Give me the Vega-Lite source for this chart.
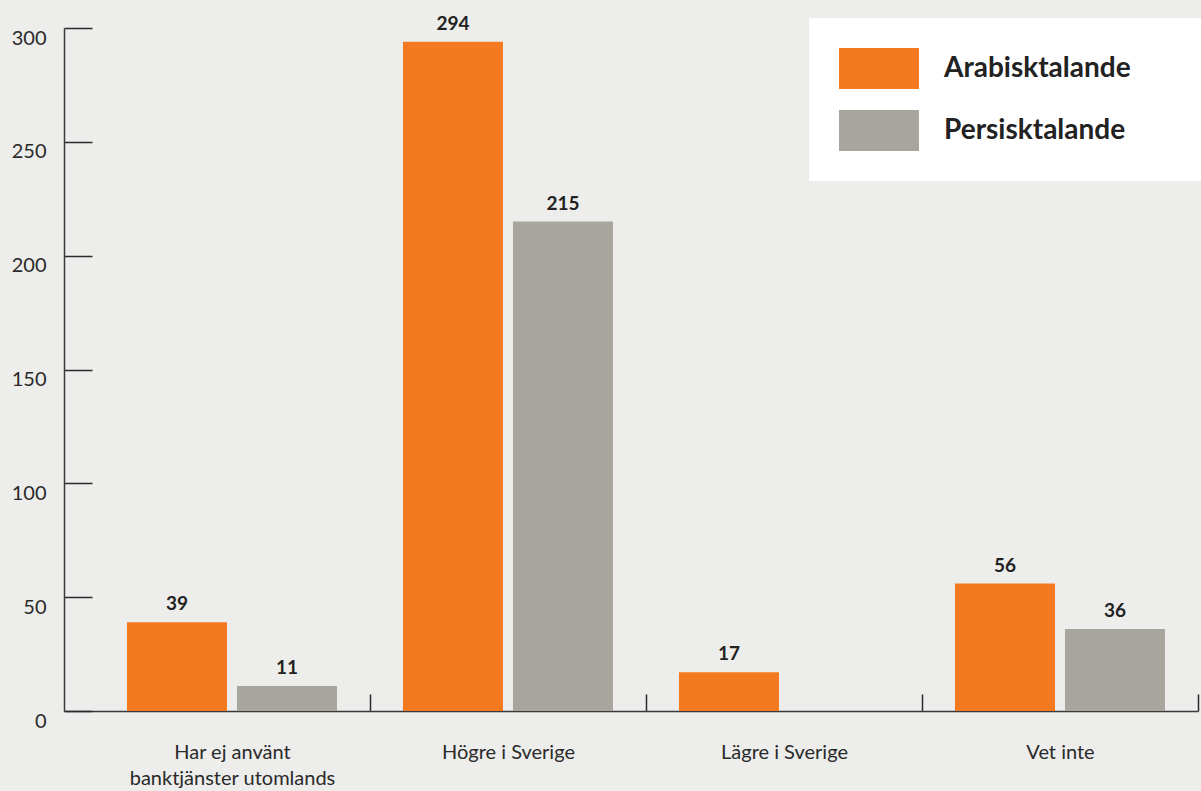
{
  "$schema": "https://vega.github.io/schema/vega-lite/v6.json",
  "autosize": {"type": "none"},
  "width": 1134,
  "height": 683,
  "padding": {"left": 64, "top": 28, "right": 3, "bottom": 80},
  "background": "#ededeb",
  "config": {
    "view": {"stroke": null},
    "font": "Lato",
    "axis": {"labelFont": "Lato", "labelColor": "#2a2a2a", "domainColor": "#3a3a3a", "tickColor": "#2a2a2a", "grid": false, "title": null}
  },
  "data": {
    "values": [
      {"kategori": "Har ej använt banktjänster utomlands", "grupp": "Arabisktalande", "antal": 39},
      {"kategori": "Har ej använt banktjänster utomlands", "grupp": "Persisktalande", "antal": 11},
      {"kategori": "Högre i Sverige", "grupp": "Arabisktalande", "antal": 294},
      {"kategori": "Högre i Sverige", "grupp": "Persisktalande", "antal": 215},
      {"kategori": "Lägre i Sverige", "grupp": "Arabisktalande", "antal": 17},
      {"kategori": "Lägre i Sverige", "grupp": "Persisktalande", "antal": 0},
      {"kategori": "Vet inte", "grupp": "Arabisktalande", "antal": 56},
      {"kategori": "Vet inte", "grupp": "Persisktalande", "antal": 36}
    ]
  },
  "encoding": {
    "x": {
      "field": "kategori",
      "type": "nominal",
      "sort": null,
      "scale": {"paddingInner": 0, "paddingOuter": 0.0543, "align": 1},
      "axis": {
        "labelAngle": 0,
        "labelFontSize": 20,
        "labelPadding": 48,
        "labelLineHeight": 26,
        "labelBaseline": "top",
        "labelLimit": 500,
        "tickBand": "extent",
        "tickSize": -17,
        "tickWidth": 1.5,
        "tickOpacity": {"condition": {"test": "datum.extra", "value": 0}, "value": 1},
        "domainWidth": 1.5,
        "labelExpr": "datum.label == 'Har ej använt banktjänster utomlands' ? ['Har ej använt', 'banktjänster utomlands'] : datum.label"
      }
    },
    "xOffset": {
      "field": "grupp",
      "type": "nominal",
      "scale": {"paddingInner": 0.0909, "paddingOuter": 0.3}
    },
    "y": {
      "field": "antal",
      "type": "quantitative",
      "scale": {"domain": [0, 300], "nice": false},
      "axis": {
        "values": [0, 50, 100, 150, 200, 250, 300],
        "labelFontSize": 20,
        "labelPadding": 46,
        "labelOffset": 10,
        "tickSize": -28,
        "tickWidth": 1.5,
        "domainWidth": 1.5
      }
    }
  },
  "layer": [
    {
      "mark": {"type": "bar"},
      "encoding": {
        "color": {
          "field": "grupp",
          "type": "nominal",
          "scale": {"domain": ["Arabisktalande", "Persisktalande"], "range": ["#f47a21", "#a8a59e"]},
          "legend": {
            "title": null,
            "orient": "none",
            "legendX": 745,
            "legendY": -10,
            "fillColor": "#ffffff",
            "padding": 30,
            "symbolType": "M-1,-1H2.9V1H-1Z",
            "symbolSize": 1681,
            "symbolStrokeWidth": 0,
            "symbolOpacity": 1,
            "labelFont": "Lato",
            "labelFontSize": 28,
            "labelFontWeight": "bold",
            "labelColor": "#222222",
            "labelOffset": 64,
            "labelLimit": 400,
            "rowPadding": 21,
            "labelExpr": "datum.label + '\u00a0\u00a0\u00a0\u00a0\u00a0\u00a0\u00a0\u00a0\u00a0\u200b'"
          }
        }
      }
    },
    {
      "transform": [{"filter": "datum.antal > 0"}],
      "mark": {"type": "text", "baseline": "alphabetic", "dy": -12, "fontSize": 19, "fontWeight": "bold", "color": "#222222", "font": "Lato"},
      "encoding": {
        "text": {"field": "antal", "type": "quantitative"}
      }
    }
  ]
}
